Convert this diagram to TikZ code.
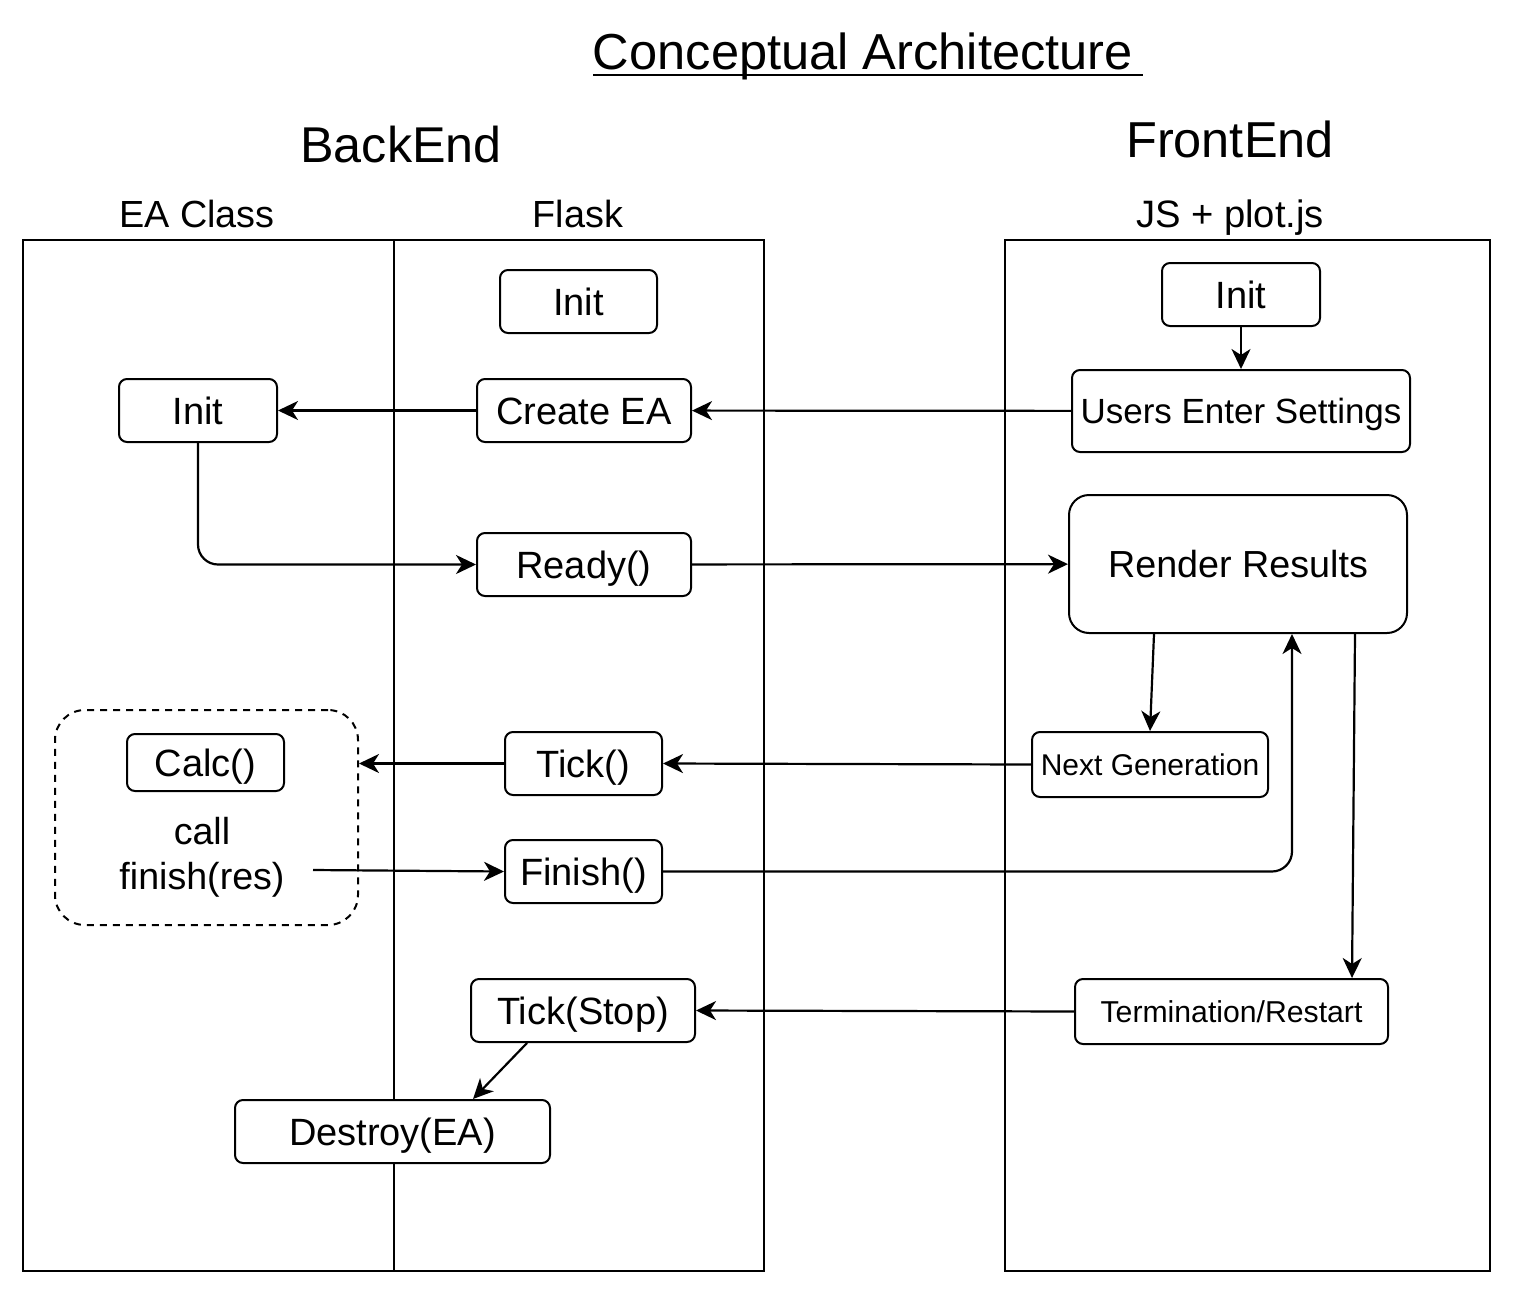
\documentclass[tikz,border=0pt]{standalone}
\usepackage{fontspec}
\setmainfont{Liberation Sans}
\usetikzlibrary{arrows.meta}
\newcommand{\fsz}[1]{\fontsize{#1}{#1}\selectfont}
\tikzset{
  box/.style={draw, fill=white, line width=2pt, rounded corners=8pt, inner sep=0pt, align=center, text height=27.2pt, text depth=0pt, font=\fsz{38}},
  lane/.style={line width=2pt},
  arr/.style={line width=2.2pt, -{Stealth[length=20pt,width=19pt,inset=6pt]}},
  lbl/.style={anchor=base, inner sep=0pt}
}
\begin{document}
\begin{tikzpicture}[x=1pt,y=-1pt]
\useasboundingbox (0,0) rectangle (1522,1298);
% titles
\node[lbl, font=\fsz{50.6}] (title) at (863,70) {Conceptual Architecture};
\draw[line width=2.5pt] (593,75) -- (1143,75);
\node[lbl, font=\fsz{50.3}] (back) at (401,162) {BackEnd};
\node[lbl, font=\fsz{50.5}] (front) at (1230,157) {FrontEnd};
\node[lbl, font=\fsz{37.8}] (eac) at (197,227) {EA Class};
\node[lbl, font=\fsz{37.8}] (fl) at (578,227) {Flask};
\node[lbl, font=\fsz{38.2}] (js) at (1230,227) {JS + plot.js};
% lanes
\draw[lane] (23,240) rectangle (764,1271);
\draw[lane] (394,240) -- (394,1271);
\draw[lane] (1005,240) rectangle (1490,1271);
% dashed group
\node[draw, dashed, dash pattern=on 7pt off 6pt, line width=2pt, rounded corners=30pt, minimum width=303pt, minimum height=215pt, inner sep=0pt] (grp) at (206.5,817.5) {};
% backend boxes
\node[box, minimum width=157pt, minimum height=63pt] (finit) at (578.5,301.5) {Init};
\node[box, minimum width=214pt, minimum height=63pt] (create) at (584,410.5) {Create EA};
\node[box, minimum width=158pt, minimum height=63pt] (eainit) at (198,410.5) {Init};
\node[box, minimum width=214pt, minimum height=63pt] (ready) at (584,564.5) {Ready()};
\node[box, minimum width=157pt, minimum height=63pt] (tick) at (583.5,763.5) {Tick()};
\node[box, minimum width=157pt, minimum height=63pt] (finish) at (583.5,871.5) {Finish()};
\node[box, minimum width=224pt, minimum height=63pt] (tickstop) at (583,1010.5) {Tick(Stop)};
\node[box, minimum width=315pt, minimum height=63pt] (destroy) at (392.5,1131.5) {Destroy(EA)};
\node[box, minimum width=157pt, minimum height=57pt] (calc) at (205.5,762.5) {Calc()};
\node[align=center, inner sep=0pt, font=\fontsize{37.6}{45}\selectfont] (callf) at (202,857) {call\\finish(res)};
% frontend boxes
\node[box, minimum width=158pt, minimum height=63pt] (jinit) at (1241,294.5) {Init};
\node[box, minimum width=338pt, minimum height=82pt, font=\fsz{35}, text height=25pt] (users) at (1241,411) {Users Enter Settings};
\node[box, rounded corners=20pt, minimum width=338pt, minimum height=138pt, font=\fsz{37.7}, text height=27pt] (render) at (1238,564) {Render Results};
\node[box, minimum width=236pt, minimum height=65pt, font=\fsz{30}, text height=21.5pt] (nextgen) at (1150,764.5) {Next Generation};
\node[box, minimum width=313pt, minimum height=65pt, font=\fsz{30.2}, text height=21.6pt] (term) at (1231.5,1011.5) {Termination/Restart};
% connectors
\draw[arr] (jinit) -- (users);
\draw[arr] (users) -- (create);
\draw[arr] (create) -- (eainit);
\draw[arr, rounded corners=20pt] (eainit.south) |- (ready.west);
\draw[arr] (ready) -- (render);
\draw[arr] ([xshift=-84pt]render.south) -- (nextgen.north);
\draw[arr] (nextgen.west) -- (tick.east);
\draw[arr] (tick.west) -- (tick.west -| grp.east);
\coordinate (cf) at (313,870);
\draw[arr] (cf) -- (finish.west);
\draw[arr, rounded corners=20pt] (finish.east) -| ([xshift=54pt]render.south);
\draw[arr] ([xshift=117pt]render.south) -- ([xshift=120.5pt]term.north);
\draw[arr] (term.west) -- (tickstop.east);
\draw[arr] ([xshift=-56pt]tickstop.south) -- ([xshift=80.5pt]destroy.north);
\end{tikzpicture}
\end{document}
